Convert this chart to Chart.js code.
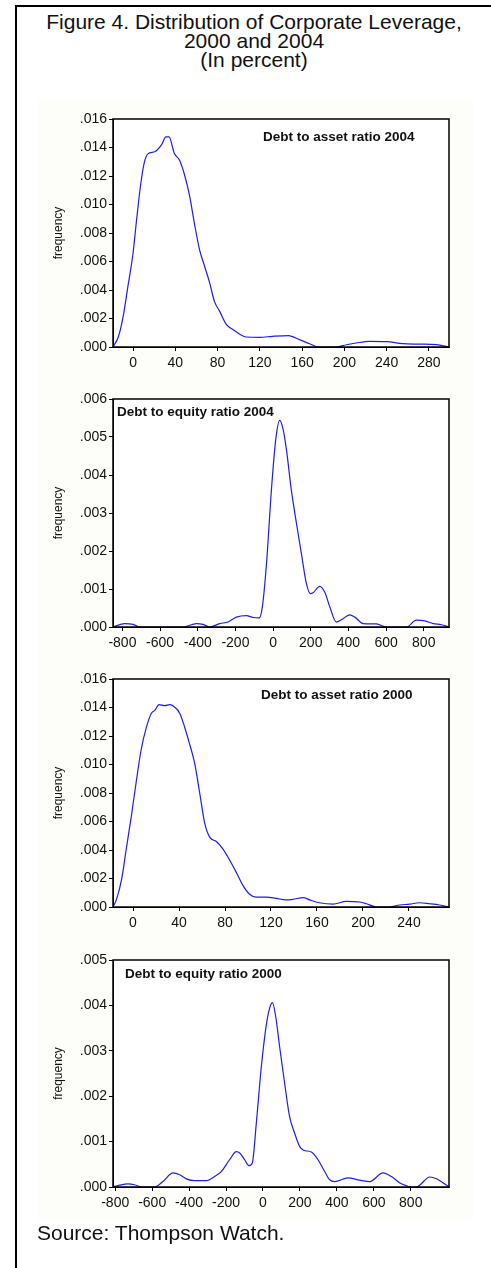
<!DOCTYPE html>
<html>
<head>
<meta charset="utf-8">
<script src="https://cdn.jsdelivr.net/npm/chart.js@4.4.1/dist/chart.umd.min.js"></script>
<style>
  body { margin:0; background:#fff; width:491px; height:1268px; position:relative; overflow:hidden;
         font-family:"Liberation Sans", Arial, sans-serif; color:#111; }
  #frameTop { position:absolute; left:15px; top:5px; width:476px; height:2px; background:#000; }
  #frameLeft { position:absolute; left:15px; top:5px; width:2px; height:1263px; background:#000; }
  #paper { position:absolute; left:37px; top:100px; width:436px; height:1120px; background:#fdfdfa; }
  #title { position:absolute; left:17px; width:474px; top:12px; text-align:center; font-size:21px; line-height:19px; }
  canvas { position:absolute; left:0; }
  .plabel { position:absolute; font-weight:bold; font-size:13.5px; line-height:14px; white-space:nowrap; }
  #source { position:absolute; left:37px; top:1221px; font-size:21px; line-height:24px; }
</style>
</head>
<body>
<div id="frameTop"></div>
<div id="frameLeft"></div>
<div id="paper"></div>
<div id="title">Figure 4. Distribution of Corporate Leverage,<br>2000 and 2004<br>(In percent)</div>

<canvas id="c1" width="491" height="280" style="top:104px"></canvas>
<canvas id="c2" width="491" height="280" style="top:384px"></canvas>
<canvas id="c3" width="491" height="280" style="top:664px"></canvas>
<canvas id="c4" width="491" height="280" style="top:945px"></canvas>

<div class="plabel" style="left:263px; top:130px">Debt to asset ratio 2004</div>
<div class="plabel" style="left:117px; top:405px">Debt to equity ratio 2004</div>
<div class="plabel" style="left:261px; top:688px">Debt to asset ratio 2000</div>
<div class="plabel" style="left:125px; top:967px">Debt to equity ratio 2000</div>

<div id="source">Source: Thompson Watch.</div>

<script>
// Debt to asset ratio 2004
const assetX2004 = [-19,-14,-9.5,-5,0,3,7,10.5,14,20.5,27,31,34,39,44,49,53.5,58,63,68,72.5,77,82,88,95,101,107,120,132,147,158,167,176,192,202,211,224,240,255,271,287,299];
const assetY2004 = [0,0.0007,0.0021,0.0042,0.0066,0.0087,0.0113,0.0129,0.01355,0.0137,0.0142,0.01474,0.01474,0.0136,0.0131,0.0120,0.0106,0.0087,0.0068,0.0056,0.0045,0.0032,0.0025,0.0016,0.0012,0.0009,0.0007,0.00068,0.00075,0.0008,0.0005,0.00023,0,0,0.00016,0.00028,0.0004,0.00038,0.00023,0.0002,0.00016,0];
const assetTicks2004 = [0,40,80,120,160,200,240,280];

// Debt to equity ratio 2004
const equityX2004 = [-850,-788,-743,-708,-478,-407,-372,-336,-283,-239,-195,-142,-106,-74,-57,-35,-9,14,35,53,71,97,124,150,177,198,212,248,274,301,336,363,407,434,478,549,602,708,761,805,850,894,934];
const equityY2004 = [0,0.00009,0.00007,0,0,0.00009,0.00007,0,0.00009,0.00013,0.00026,0.0003,0.00025,0.00024,0.00053,0.00167,0.0036,0.00493,0.00544,0.00521,0.00466,0.0036,0.00273,0.00194,0.00114,0.00088,0.0009,0.00107,0.00092,0.00053,0.00013,0.00019,0.00032,0.00026,0.00009,0.00008,0,0,0.00018,0.00016,0.00009,0.00006,0];
const equityTicks2004 = [-800,-600,-400,-200,0,200,400,600,800];

// Debt to asset ratio 2000
const assetX2000 = [-17.4,-14.5,-10,-6,-1.4,3,7,11.6,16,19,22.6,27.5,32,36,40.6,45,49,53.6,58,62.3,66.7,72.5,78,84,90,95.7,101.4,107,116,124.6,133,139,148,153.6,162,174,185.5,197,203,211.6,223,232,240.6,249,258,266.7,274.8];
const assetY2000 = [0,0.0005,0.0019,0.004,0.0064,0.0089,0.011,0.0126,0.0136,0.0138,0.0142,0.01413,0.0142,0.01404,0.0136,0.0126,0.0115,0.0101,0.008,0.0059,0.0049,0.0046,0.0041,0.0033,0.0024,0.0015,0.0009,0.0007,0.0007,0.0006,0.0005,0.00054,0.00066,0.0005,0.0003,0.0002,0.0004,0.00035,0.00023,0,0,0.00014,0.0002,0.0003,0.00023,0.00014,0];
const assetTicks2000 = [0,40,80,120,160,200,240];

// Debt to equity ratio 2000
const equityX2000 = [-812,-776,-731,-695,-659,-587,-542,-487,-451,-415,-370,-307,-262,-226,-181,-144,-126,-99,-76,-58,-36,-9,18,36,51,69,90,117,144,171,199,220,262,298,334,361,388,460,523,578,650,695,749,812,830,903,939,1007];
const equityY2000 = [0,0.00004,0.00007,0.00005,0,0,0.00012,0.00031,0.00027,0.00018,0.00014,0.00014,0.00023,0.00034,0.0006,0.00078,0.00075,0.0006,0.00047,0.00053,0.00141,0.00265,0.00357,0.00394,0.00406,0.00375,0.00309,0.00229,0.00155,0.00119,0.00089,0.00081,0.00077,0.0006,0.00034,0.00016,0.00012,0.0002,0.00015,0.00012,0.00031,0.00023,0.00007,0,0,0.00022,0.00018,0];
const equityTicks2000 = [-800,-600,-400,-200,0,200,400,600,800];

// white plot area + black box around it
const boxPlugin = {
  id: 'box',
  beforeDraw(chart) {
    const a = chart.chartArea, ctx = chart.ctx;
    ctx.save();
    ctx.fillStyle = '#fff';
    ctx.fillRect(a.left, a.top, a.right - a.left, a.bottom - a.top);
    ctx.restore();
  },
  afterDraw(chart) {
    const a = chart.chartArea, ctx = chart.ctx;
    ctx.save();
    ctx.strokeStyle = '#000';
    ctx.lineWidth = 1.5;
    ctx.strokeRect(a.left, a.top, a.right - a.left, a.bottom - a.top);
    ctx.restore();
  }
};

const tickFont = { family: '"Liberation Sans", Arial, sans-serif', size: 14 };

function makePanel(id, xs, ys, xTicks, xMin, xMax, yMax, yStep, plotH) {
  const ctx = document.getElementById(id).getContext('2d');
  return new Chart(ctx, {
    type: 'line',
    data: {
      datasets: [{
        data: xs.map((x, i) => ({ x: x, y: ys[i] })),
        borderColor: '#1c1cf5',
        borderWidth: 1.2,
        pointRadius: 0,
        fill: false,
        cubicInterpolationMode: 'monotone'
      }]
    },
    options: {
      responsive: false,
      animation: false,
      layout: { padding: { left: 51, right: 42, top: 15, bottom: 0 } },
      plugins: { legend: { display: false }, tooltip: { enabled: false } },
      scales: {
        x: {
          type: 'linear',
          min: xMin,
          max: xMax,
          afterBuildTicks: s => { s.ticks = xTicks.map(v => ({ value: v })); },
          afterFit: s => { s.height = 280 - 15 - plotH; },
          grid: { drawOnChartArea: false, drawTicks: true, tickLength: 4, color: '#000' },
          border: { display: true, color: '#000', width: 1 },
          ticks: { font: tickFont, color: '#111', padding: 4, maxRotation: 0, autoSkip: false }
        },
        y: {
          min: 0,
          max: yMax,
          afterFit: s => { s.width = 62; },
          grid: { drawOnChartArea: false, drawTicks: true, tickLength: 4, color: '#000' },
          border: { display: true, color: '#000', width: 1 },
          ticks: {
            stepSize: yStep,
            font: tickFont,
            color: '#111',
            padding: 2,
            callback: v => v.toFixed(3).replace(/^0/, '')
          },
          title: {
            display: true,
            text: 'frequency',
            color: '#111',
            padding: 0,
            font: { family: '"Liberation Sans", Arial, sans-serif', size: 12 }
          }
        }
      }
    },
    plugins: [boxPlugin]
  });
}

makePanel('c1', assetX2004, assetY2004, assetTicks2004, -19, 299, 0.016, 0.002, 228);
makePanel('c2', equityX2004, equityY2004, equityTicks2004, -850, 934, 0.006, 0.001, 228);
makePanel('c3', assetX2000, assetY2000, assetTicks2000, -17.4, 274.8, 0.016, 0.002, 228);
makePanel('c4', equityX2000, equityY2000, equityTicks2000, -812, 1007, 0.005, 0.001, 227);
</script>
</body>
</html>
